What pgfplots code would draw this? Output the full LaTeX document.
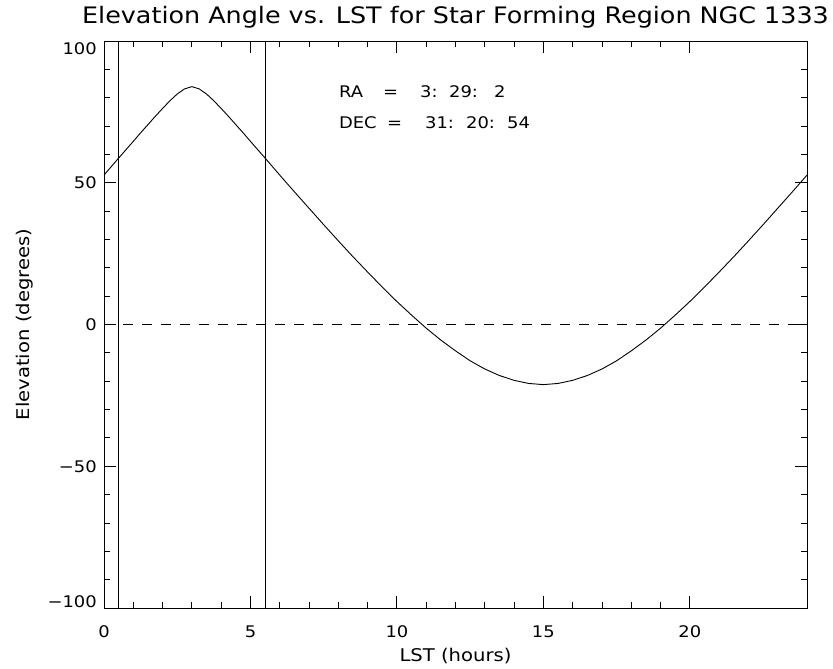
\documentclass[border=0pt]{standalone}
\usepackage{fontspec}
\setmainfont{DejaVu Sans}[FakeStretch=1.12]
\usepackage{pgfplots}
\pgfplotsset{compat=1.18}
\begin{document}
\begin{tikzpicture}
\begin{axis}[
  scale only axis,
  width=703pt, height=567pt,
  xmin=0, xmax=24, ymin=-100, ymax=100,
  xtick={0,5,10,15,20}, ytick={-100,-50,0,50,100},
  yticklabels={\raisebox{6.5pt}{−100},−50,0,50,\raisebox{-8pt}{100}},
  minor x tick num=4, minor y tick num=4,
  tick align=inside,
  major tick length=12pt, minor tick length=6.5pt,
  every tick/.style={black, line width=0.9pt},
  axis line style={line width=0.9pt},
  tick label style={font=\fontsize{16}{18}\selectfont},
  /pgf/number format/assume math mode=true,
  xticklabel style={anchor=base, yshift=-29pt, inner sep=0pt},
  yticklabel style={anchor=base east, yshift=-5.8pt, xshift=-7pt, inner sep=0pt},
  xlabel={LST (hours)},
  ylabel={Elevation (degrees)},
  xlabel style={font=\fontsize{17.5}{19}\selectfont, at={(axis description cs:0.5,-0.0952)}, anchor=base, inner sep=0pt},
  ylabel style={font=\fontsize{17.5}{19}\selectfont, at={(axis description cs:-0.106,0.5)}, anchor=base, inner sep=0pt},
  title={Elevation Angle vs. LST for Star Forming Region NGC 1333},
  title style={font=\fontsize{22.7}{25}\selectfont, at={(axis description cs:0.5,1)}, anchor=base, yshift=11.7pt, inner sep=0pt},
  clip=true,
]
\addplot[black, line width=0.9pt] coordinates {
(0,52.7) (0.5,58.7) (1,64.6) (1.25,67.6) (1.5,70.5) (1.75,73.4) (2,76.2)
(2.25,78.9) (2.5,81.3) (2.75,83.1) (3,83.9) (3.25,83.1)
(3.5,81.3) (3.75,78.9) (4,76.2) (4.25,73.4) (4.5,70.5) (4.75,67.6) (5,64.6)
(5.5,58.7) (6,52.7) (6.5,46.8)
(7,41.0) (7.5,35.2) (8,29.5) (8.5,23.9) (9,18.5) (9.5,13.2) (10,8.1)
(10.5,3.3) (11,-1.3) (11.5,-5.5) (12,-9.3) (12.5,-12.8) (13,-15.7)
(13.5,-18.0) (14,-19.7) (14.5,-20.8) (15,-21.2) (15.5,-20.8) (16,-19.7)
(16.5,-18.0) (17,-15.7) (17.5,-12.8) (18,-9.3) (18.5,-5.5) (19,-1.3)
(19.5,3.3) (20,8.1) (20.5,13.2) (21,18.5) (21.5,23.9) (22,29.5)
(22.5,35.2) (23,41.0) (23.5,46.8) (24,52.7)
};
\addplot[black, line width=0.9pt, dash pattern=on 10pt off 9pt] coordinates {(0,0) (24,0)};
\addplot[black, line width=0.9pt] coordinates {(0.5,-100) (0.5,100)};
\addplot[black, line width=0.9pt] coordinates {(5.5,-100) (5.5,100)};
\node[anchor=base west, font=\fontsize{16}{18}\selectfont, inner sep=0pt] at (axis cs:8.02,80.0) {\makebox[44pt][l]{RA}\makebox[37pt][l]{=}\makebox[29pt][l]{3:}\makebox[45pt][l]{29:}2};
\node[anchor=base west, font=\fontsize{16}{18}\selectfont, inner sep=0pt] at (axis cs:8.02,69.2) {\makebox[48pt][l]{DEC}\makebox[38pt][l]{=}\makebox[41pt][l]{31:}\makebox[41pt][l]{20:}54};
\end{axis}
\pgfresetboundingbox
\path[use as bounding box] ([shift={(-104pt,-60pt)}]current axis.south west) rectangle ([shift={(26pt,41pt)}]current axis.north east);
\end{tikzpicture}
\end{document}
